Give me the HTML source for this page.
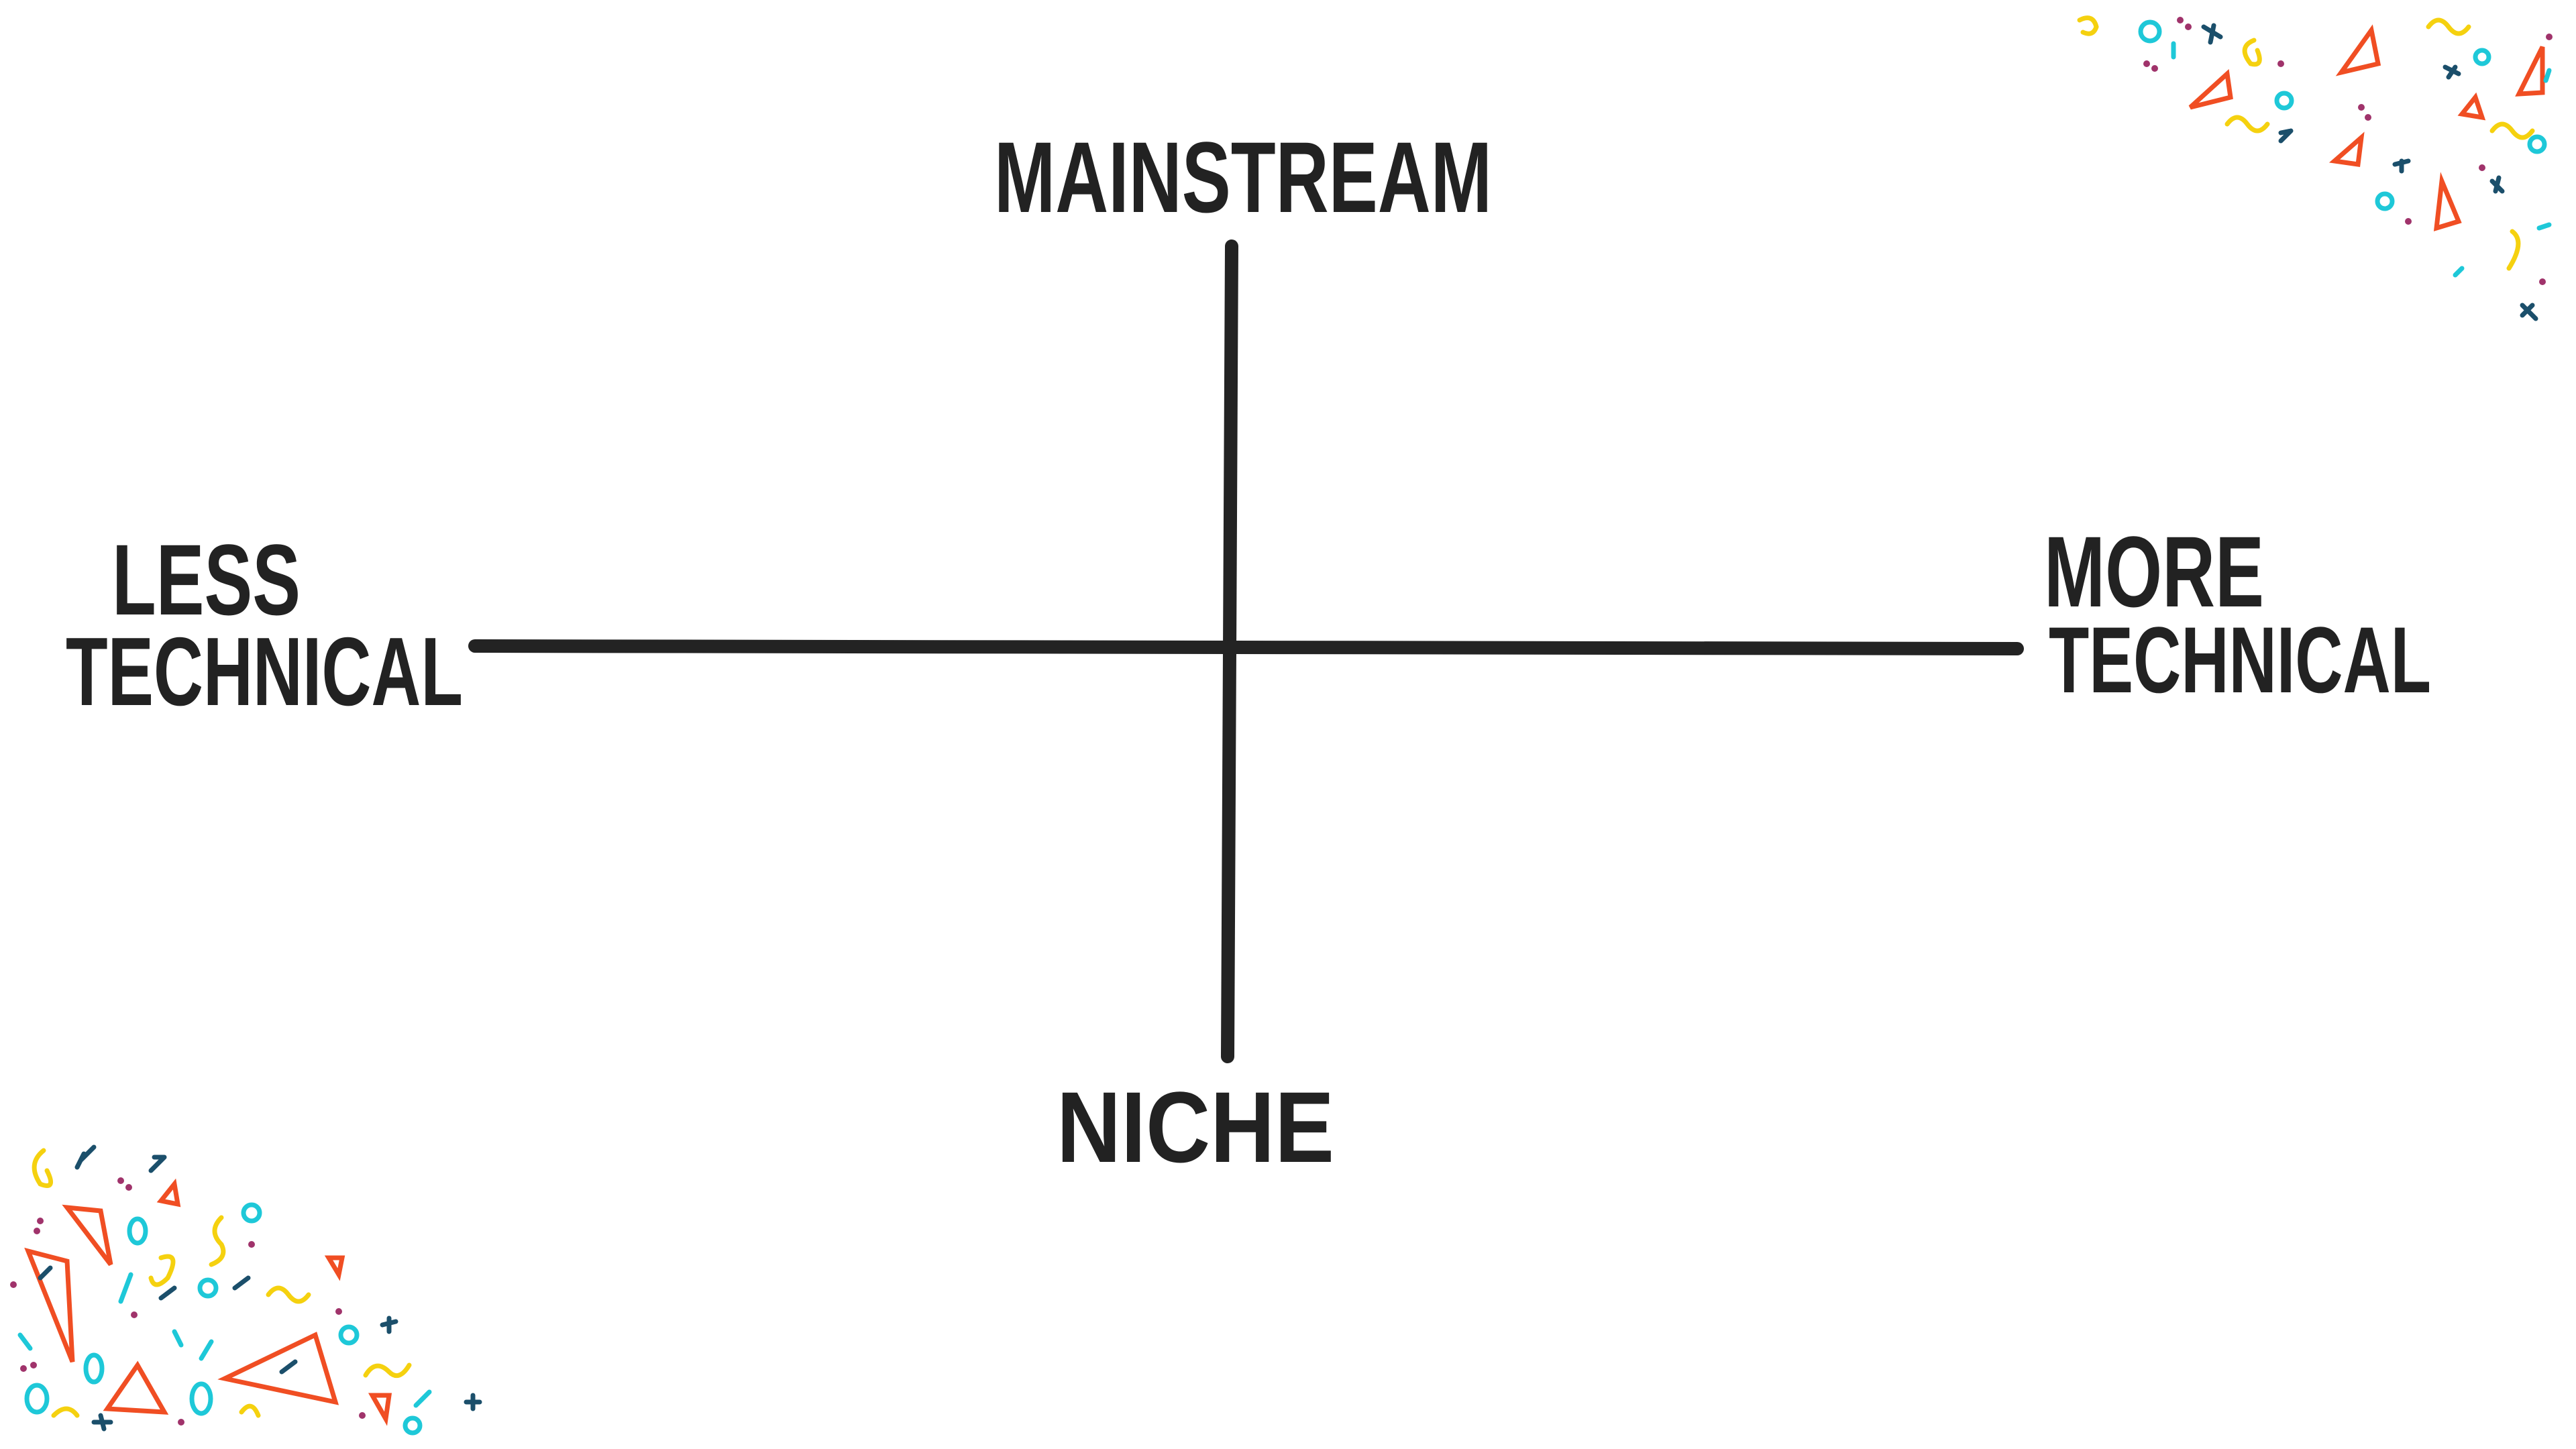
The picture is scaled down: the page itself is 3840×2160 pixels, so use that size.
<!DOCTYPE html>
<html><head><meta charset="utf-8"><style>
html,body{margin:0;padding:0;background:#fff;}
svg{display:block}
text{font-family:"Liberation Sans",sans-serif;font-weight:bold;fill:#222;}
</style></head><body>
<svg width="3840" height="2160" viewBox="0 0 3840 2160">
<g stroke="#232323" stroke-width="20" stroke-linecap="round">
<line x1="1836" y1="367" x2="1830" y2="1575"/>
<line x1="708" y1="963" x2="3007" y2="967"/>
</g>
<text x="1482" y="316" font-size="150" textLength="742" lengthAdjust="spacingAndGlyphs">MAINSTREAM</text>
<text x="1575" y="1732" font-size="150" textLength="414" lengthAdjust="spacingAndGlyphs">NICHE</text>
<text x="167" y="916" font-size="150" textLength="281" lengthAdjust="spacingAndGlyphs">LESS</text>
<text x="98" y="1051" font-size="145" textLength="592" lengthAdjust="spacingAndGlyphs">TECHNICAL</text>
<text x="3047" y="904" font-size="150" textLength="328" lengthAdjust="spacingAndGlyphs">MORE</text>
<text x="3054" y="1032" font-size="140" textLength="570" lengthAdjust="spacingAndGlyphs">TECHNICAL</text>
<g fill="none" stroke-width="7" stroke-linecap="round">
<polygon points="3490,108 3535,45 3545,95" stroke="#f04e23"/>
<polygon points="3265,160 3320,110 3325,145" stroke="#f04e23"/>
<polygon points="3755,140 3790,70 3790,138" stroke="#f04e23"/>
<polygon points="3640,270 3632,340 3665,330" stroke="#f04e23"/>
<polygon points="3480,240 3520,205 3515,245" stroke="#f04e23"/>
<polygon points="3670,170 3690,145 3700,175" stroke="#f04e23"/>
<circle cx="3205" cy="47" r="14" stroke="#1ec8d8"/>
<circle cx="3405" cy="150" r="11" stroke="#1ec8d8"/>
<circle cx="3555" cy="300" r="11" stroke="#1ec8d8"/>
<circle cx="3782" cy="215" r="11" stroke="#1ec8d8"/>
<circle cx="3700" cy="85" r="10" stroke="#1ec8d8"/>
<path d="M3100,30 q20,-10 25,10 q-5,15 -20,8" stroke="#f5d10f"/>
<path d="M3360,60 q-25,10 -5,35 q20,5 10,-20" stroke="#f5d10f"/>
<path d="M3320,185 q15,-20 30,0 q15,20 30,0" stroke="#f5d10f"/>
<path d="M3715,195 q15,-20 30,0 q15,20 30,0" stroke="#f5d10f"/>
<path d="M3745,345 q20,15 -5,55" stroke="#f5d10f"/>
<path d="M3620,40 q15,-20 30,0 q15,20 30,0" stroke="#f5d10f"/>
<line x1="3240" y1="65" x2="3240" y2="85" stroke="#1ec8d8"/>
<line x1="3800" y1="105" x2="3795" y2="120" stroke="#1ec8d8"/>
<line x1="3670" y1 ="400" x2="3660" y2="410" stroke="#1ec8d8"/>
<line x1="3785" y1="340" x2="3800" y2="335" stroke="#1ec8d8"/>
<path d="M3285,40 l25,15 M3300,38 l-5,25" stroke="#1b4f6b"/>
<path d="M3400,210 l15,-15 M3400,198 l15,-3" stroke="#1b4f6b"/>
<path d="M3645,100 l20,10 M3650,115 l10,-15" stroke="#1b4f6b"/>
<path d="M3715,270 l15,15 M3720,285 l5,-20" stroke="#1b4f6b"/>
<path d="M3760,455 l20,20 M3760,470 l15,-15" stroke="#1b4f6b"/>
<path d="M3570,245 l20,-5 M3580,255 l0,-15" stroke="#1b4f6b"/>
</g>
<g fill="none" stroke-width="7" stroke-linecap="round">
<polygon points="42,1865 100,1880 108,2030" stroke="#f04e23"/>
<polygon points="100,1800 150,1805 165,1885" stroke="#f04e23"/>
<polygon points="160,2100 205,2035 245,2105" stroke="#f04e23"/>
<polygon points="335,2055 470,1990 500,2090" stroke="#f04e23"/>
<polygon points="240,1790 260,1765 265,1795" stroke="#f04e23"/>
<polygon points="490,1875 505,1900 510,1875" stroke="#f04e23"/>
<polygon points="555,2080 575,2115 580,2080" stroke="#f04e23"/>
<ellipse cx="55" cy="2085" rx="15" ry="20" stroke="#1ec8d8"/>
<ellipse cx="205" cy="1835" rx="12" ry="18" stroke="#1ec8d8"/>
<ellipse cx="300" cy="2085" rx="14" ry="22" stroke="#1ec8d8"/>
<ellipse cx="140" cy="2040" rx="12" ry="20" stroke="#1ec8d8"/>
<circle cx="375" cy="1808" r="12" stroke="#1ec8d8"/>
<circle cx="310" cy="1920" r="12" stroke="#1ec8d8"/>
<circle cx="520" cy="1990" r="12" stroke="#1ec8d8"/>
<circle cx="615" cy="2125" r="11" stroke="#1ec8d8"/>
<line x1="180" y1="1940" x2="195" y2="1900" stroke="#1ec8d8"/>
<line x1="260" y1="1985" x2="270" y2="2005" stroke="#1ec8d8"/>
<line x1="300" y1="2025" x2="315" y2="2000" stroke="#1ec8d8"/>
<line x1="30" y1="1990" x2="45" y2="2010" stroke="#1ec8d8"/>
<line x1="620" y1="2095" x2="640" y2="2075" stroke="#1ec8d8"/>
<path d="M65,1715 q-25,20 -5,50 q25,10 10,-20" stroke="#f5d10f"/>
<path d="M240,1875 q30,-10 10,30 q-20,20 -25,0" stroke="#f5d10f"/>
<path d="M330,1815 q-20,20 0,40 q10,20 -15,30" stroke="#f5d10f"/>
<path d="M400,1930 q15,-20 30,0 q15,20 30,0" stroke="#f5d10f"/>
<path d="M545,2050 q15,-25 35,-5 q15,15 30,-10" stroke="#f5d10f"/>
<path d="M80,2110 q20,-20 35,0" stroke="#f5d10f"/>
<path d="M360,2105 q15,-20 25,5" stroke="#f5d10f"/>
<path d="M120,1730 l20,-20 M115,1740 l10,-20" stroke="#1b4f6b"/>
<path d="M225,1745 l20,-20 M230,1725 l15,0" stroke="#1b4f6b"/>
<path d="M60,1905 l15,-15" stroke="#1b4f6b"/>
<path d="M240,1935 l20,-15" stroke="#1b4f6b"/>
<path d="M350,1920 l20,-15" stroke="#1b4f6b"/>
<path d="M140,2120 l25,0 M150,2110 l5,20" stroke="#1b4f6b"/>
<path d="M420,2045 l20,-15" stroke="#1b4f6b"/>
<path d="M570,1975 l20,-5 M580,1985 l0,-20" stroke="#1b4f6b"/>
<path d="M695,2090 l20,0 M705,2080 l0,20" stroke="#1b4f6b"/>
</g>
<g fill="#a0336b">
<circle cx="3250" cy="30" r="5"/><circle cx="3262" cy="40" r="5"/><circle cx="3200" cy="95" r="5"/><circle cx="3212" cy="102" r="5"/>
<circle cx="3400" cy="95" r="5"/><circle cx="3520" cy="160" r="5"/><circle cx="3530" cy="175" r="5"/><circle cx="3590" cy="330" r="5"/>
<circle cx="3800" cy="55" r="5"/><circle cx="3790" cy="420" r="5"/><circle cx="3700" cy="250" r="5"/>
<circle cx="60" cy="1820" r="5"/><circle cx="55" cy="1835" r="5"/><circle cx="180" cy="1760" r="5"/><circle cx="192" cy="1770" r="5"/>
<circle cx="35" cy="2040" r="5"/><circle cx="50" cy="2035" r="5"/><circle cx="200" cy="1960" r="5"/><circle cx="375" cy="1855" r="5"/>
<circle cx="505" cy="1955" r="5"/><circle cx="540" cy="2110" r="5"/><circle cx="270" cy="2120" r="5"/><circle cx="20" cy="1915" r="5"/>
</g>
</svg>
</body></html>
